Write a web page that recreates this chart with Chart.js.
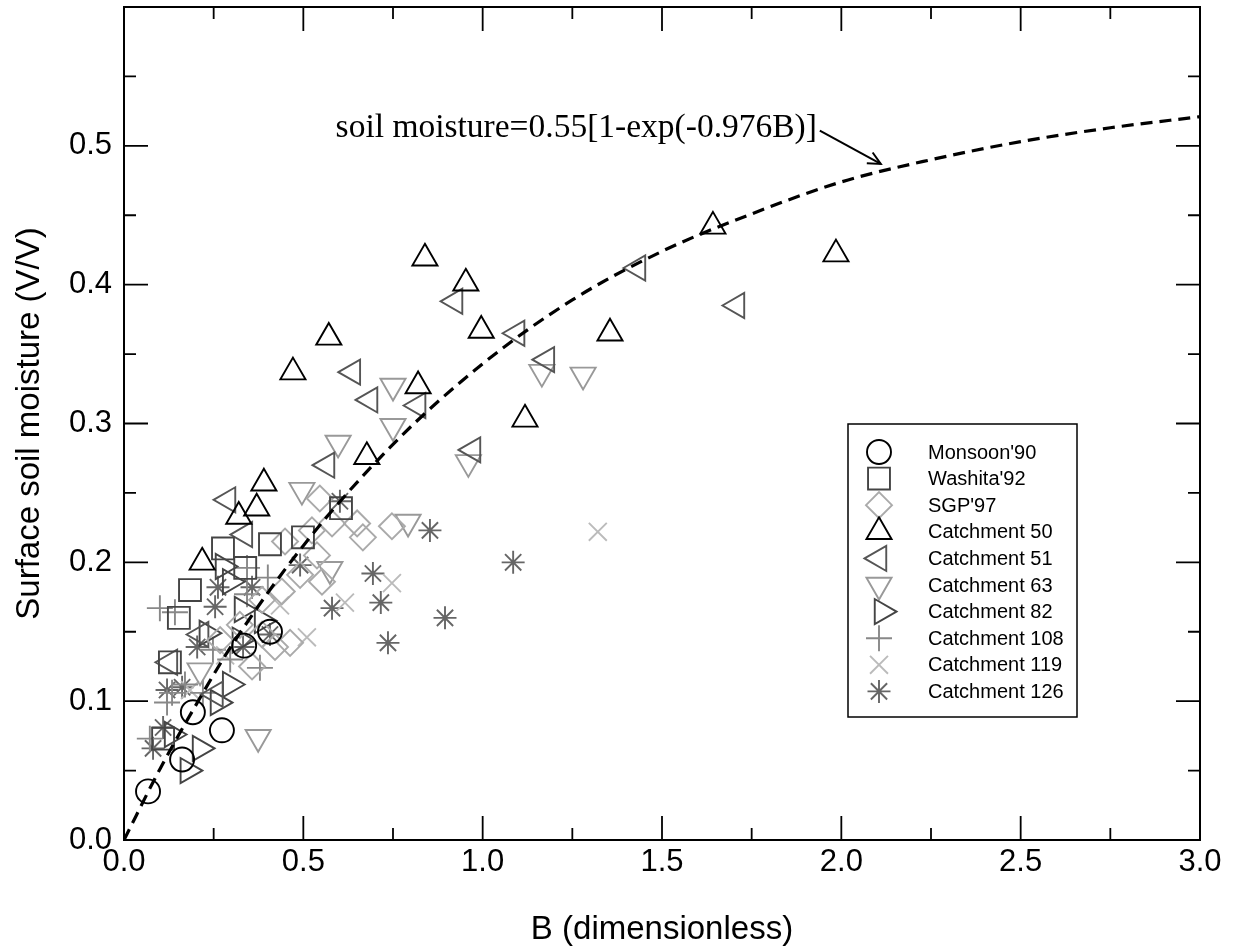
<!DOCTYPE html>
<html><head><meta charset="utf-8">
<script src="https://cdn.jsdelivr.net/npm/chart.js@4/dist/chart.umd.min.js"></script>
<style>html,body{margin:0;padding:0;background:#fff}#wrap{width:1233px;height:952px;position:relative}</style>
</head><body><div id="wrap"><canvas id="c" width="1233" height="952"></canvas></div>
<script>
// ---- data ----
const monsoonB  = [0.067,0.162,0.192,0.273,0.335,0.407];
const monsoonSM = [0.035,0.058,0.092,0.079,0.140,0.150];

const washitaB  = [0.276,0.338,0.407,0.499,0.605,0.184,0.153,0.128,0.109];
const washitaSM = [0.210,0.196,0.213,0.218,0.239,0.180,0.160,0.128,0.073];

const sgpB  = [0.449,0.440,0.357,0.421,0.463,0.524,0.546,0.580,0.650,0.666,0.747,0.538,0.552,0.491,0.385,0.323,0.268,0.385];
const sgpSM = [0.215,0.179,0.125,0.139,0.142,0.223,0.246,0.228,0.228,0.218,0.226,0.205,0.186,0.191,0.173,0.155,0.144,0.148];

const c50B  = [0.839,0.953,0.996,0.571,0.471,0.820,1.118,1.355,1.642,1.985,0.677,0.390,0.370,0.320,0.218];
const c50SM = [0.419,0.401,0.367,0.362,0.337,0.327,0.303,0.365,0.442,0.422,0.276,0.257,0.239,0.233,0.200];

const c51B  = [0.923,0.638,0.686,0.820,1.096,1.179,0.973,0.566,1.433,1.709,0.290,0.337,0.128,0.215,0.255];
const c51SM = [0.388,0.337,0.317,0.313,0.365,0.346,0.281,0.270,0.412,0.385,0.245,0.220,0.128,0.148,0.105];

const c63B  = [0.750,1.165,1.280,0.750,0.597,0.960,0.792,0.496,0.574,0.374,0.212];
const c63SM = [0.327,0.337,0.335,0.298,0.286,0.272,0.229,0.252,0.195,0.074,0.122];

const c82B  = [0.276,0.231,0.329,0.296,0.262,0.212,0.178,0.134,0.323,0.385,0.296];
const c82SM = [0.197,0.149,0.166,0.112,0.099,0.066,0.050,0.076,0.144,0.158,0.186];

const c108B  = [0.100,0.142,0.343,0.401,0.343,0.134,0.120,0.170,0.220,0.072,0.248,0.296,0.379];
const c108SM = [0.167,0.164,0.196,0.189,0.177,0.106,0.099,0.112,0.106,0.073,0.137,0.130,0.124];

const c119B  = [1.321,0.747,0.616,0.510,0.282,0.184,0.435];
const c119SM = [0.222,0.185,0.171,0.146,0.133,0.108,0.169];

const c126B  = [0.853,0.694,0.580,0.716,0.895,0.736,0.602,0.491,1.085,0.262,0.357,0.254,0.204,0.332,0.407,0.120,0.162,0.109,0.081];
const c126SM = [0.223,0.192,0.167,0.171,0.160,0.142,0.244,0.198,0.200,0.182,0.182,0.168,0.139,0.139,0.148,0.108,0.110,0.081,0.066];

// fitted curve, points
const fitB  = [0,0.1,0.2,0.3,0.5,0.75,1.0,1.25,1.5,1.75,2.0,2.25,2.5,2.75,3.0];
const fitSM = [0,0.051,0.097,0.140,0.212,0.285,0.343,0.389,0.424,0.451,0.474,0.490,0.503,0.513,0.521];

const xTicks = [0,0.5,1.0,1.5,2.0,2.5,3.0];
const yTicks = [0,0.1,0.2,0.3,0.4,0.5,0.6];
const yLabels = ['0.0','0.1','0.2','0.3','0.4','0.5',''];
const xLabels = ['0.0','0.5','1.0','1.5','2.0','2.5','3.0'];

const seriesNames = ["Monsoon'90","Washita'92","SGP'97","Catchment 50","Catchment 51","Catchment 63","Catchment 82","Catchment 108","Catchment 119","Catchment 126"];

const annotationText = 'soil moisture=0.55[1-exp(-0.976B)]';

// ---- build ----
function pts(xs, ys){ return xs.map((x,i)=>({x:x, y:ys[i]})); }
const styles = [
  {style:'circle',   r:12,   rot:0,   c:'#000000'},
  {style:'rect',     r:15.5, rot:0,   c:'#444444'},
  {style:'rectRot',  r:13,   rot:0,   c:'#aaaaaa'},
  {style:'triangle', r:14.5, rot:0,   c:'#000000'},
  {style:'triangle', r:14.5, rot:-90, c:'#555555'},
  {style:'triangle', r:14.5, rot:180, c:'#999999'},
  {style:'triangle', r:14.5, rot:90,  c:'#444444'},
  {style:'cross',    r:13,   rot:0,   c:'#888888'},
  {style:'crossRot', r:12.7, rot:0,   c:'#bbbbbb'},
  {style:'star',     r:11.5, rot:0,   c:'#666666'}
];
const seriesData = [
  pts(monsoonB,monsoonSM), pts(washitaB,washitaSM), pts(sgpB,sgpSM),
  pts(c50B,c50SM), pts(c51B,c51SM), pts(c63B,c63SM), pts(c82B,c82SM),
  pts(c108B,c108SM), pts(c119B,c119SM), pts(c126B,c126SM)
];
const MW = 1.9;

const datasets = [{
  type:'line', label:'fit', data: pts(fitB, fitSM), borderColor:'#000', borderWidth:3.2,
  borderDash:[12,7], pointRadius:0, fill:false, cubicInterpolationMode:'monotone', order:0
}];
seriesNames.forEach((n,i)=>{
  const s = styles[i];
  datasets.push({
    type:'scatter', label:n, data: seriesData[i], pointStyle:s.style, pointRadius:s.r,
    pointRotation:s.rot, borderColor:s.c, backgroundColor:'rgba(0,0,0,0)', pointBorderWidth:MW,
    borderWidth:MW, order:1
  });
});

function fallbackPoint(ctx, st, x, y){
  ctx.beginPath(); ctx.arc(x,y,st.r,0,Math.PI*2); ctx.stroke();
}
function noPad(s){
  s.paddingTop = 0; s.paddingBottom = 0; s.paddingLeft = 0; s.paddingRight = 0;
}

const framePlugin = {
  id:'frame',
  afterDatasetsDraw(chart){
    const {ctx, chartArea:a, scales:{x, y}} = chart;
    ctx.save();
    ctx.strokeStyle = '#000'; ctx.lineWidth = 2;
    ctx.strokeRect(a.left, a.top, a.right-a.left, a.bottom-a.top);
    ctx.lineWidth = 1.8;
    ctx.beginPath();
    for (let i=0;i<xTicks.length;i++){
      const px = x.getPixelForValue(xTicks[i]);
      ctx.moveTo(px, a.bottom); ctx.lineTo(px, a.bottom-24);
      ctx.moveTo(px, a.top); ctx.lineTo(px, a.top+24);
      if (i<xTicks.length-1){
        const pm = x.getPixelForValue((xTicks[i]+xTicks[i+1])/2);
        ctx.moveTo(pm, a.bottom); ctx.lineTo(pm, a.bottom-12);
        ctx.moveTo(pm, a.top); ctx.lineTo(pm, a.top+12);
      }
    }
    for (let i=0;i<yTicks.length;i++){
      const py = y.getPixelForValue(yTicks[i]);
      ctx.moveTo(a.left, py); ctx.lineTo(a.left+24, py);
      ctx.moveTo(a.right, py); ctx.lineTo(a.right-24, py);
      if (i<yTicks.length-1){
        const pm = y.getPixelForValue((yTicks[i]+yTicks[i+1])/2);
        ctx.moveTo(a.left, pm); ctx.lineTo(a.left+12, pm);
        ctx.moveTo(a.right, pm); ctx.lineTo(a.right-12, pm);
      }
    }
    ctx.stroke();
    ctx.restore();
  },
  afterDraw(chart){
    const {ctx, chartArea:a, scales:{x, y}} = chart;
    ctx.save();
    // annotation
    ctx.fillStyle = '#000';
    ctx.font = '33.5px "Liberation Serif", "Times New Roman", serif';
    ctx.textAlign = 'left'; ctx.textBaseline = 'middle';
    ctx.fillText(annotationText, x.getPixelForValue(0.59), y.getPixelForValue(0.513));
    const x0 = x.getPixelForValue(1.94), y0 = y.getPixelForValue(0.511);
    const x1 = x.getPixelForValue(2.11), y1 = y.getPixelForValue(0.487);
    ctx.strokeStyle = '#000'; ctx.lineWidth = 2;
    ctx.beginPath(); ctx.moveTo(x0,y0); ctx.lineTo(x1,y1); ctx.stroke();
    const ang = Math.atan2(y1-y0, x1-x0), L = 14, w = 0.45;
    ctx.beginPath();
    ctx.moveTo(x1 - L*Math.cos(ang-w), y1 - L*Math.sin(ang-w));
    ctx.lineTo(x1, y1);
    ctx.lineTo(x1 - L*Math.cos(ang+w), y1 - L*Math.sin(ang+w));
    ctx.stroke();

    // legend box
    const bx = a.left + 724, by = a.top + 417, bw = 229, bh = 293;
    ctx.lineWidth = 1.5; ctx.strokeStyle = '#000';
    ctx.strokeRect(bx, by, bw, bh);
    ctx.font = '20px "Liberation Sans", Arial, Helvetica, sans-serif';
    ctx.textAlign = 'left'; ctx.textBaseline = 'middle';
    const H = Chart.helpers;
    seriesNames.forEach((n,i)=>{
      const st = styles[i];
      const ry = by + 28 + i*26.6;
      const mx = bx + 31 + (st.rot===90 ? 3 : 0);
      ctx.save();
      ctx.strokeStyle = st.c; ctx.fillStyle = 'rgba(0,0,0,0)'; ctx.lineWidth = MW;
      if (H && H.drawPoint) {
        H.drawPoint(ctx, {pointStyle:st.style, radius:st.r, rotation:st.rot, borderWidth:MW}, mx, ry);
      } else fallbackPoint(ctx, st, mx, ry);
      ctx.restore();
      ctx.fillStyle = '#000';
      ctx.fillText(n, bx + 80, ry + 1);
    });
    ctx.restore();
  }
};

new Chart(document.getElementById('c'), {
  data:{datasets},
  options:{
    responsive:false, animation:false, events:[],
    layout:{autoPadding:false, padding:{top:7, right:33, left:0, bottom:0}},
    plugins:{legend:{display:false}, tooltip:{enabled:false}, title:{display:false}},
    scales:{
      x:{type:'linear', min:0, max:3, position:'bottom',
         afterFit(s){ s.height = 112; noPad(s); },
         afterBuildTicks(s){ s.ticks = xTicks.map(v=>({value:v})); },
         grid:{display:false, drawTicks:false}, border:{display:false},
         ticks:{padding:4, color:'#000', font:{size:31, family:'"Liberation Sans", Arial, Helvetica, sans-serif'},
           callback:(v,i)=>xLabels[i], maxRotation:0, autoSkip:false},
         title:{display:true, text:'B (dimensionless)', color:'#000', padding:{top:0,bottom:2},
           font:{size:33, family:'"Liberation Sans", Arial, Helvetica, sans-serif'}}
      },
      y:{type:'linear', min:0, max:0.6, position:'left',
         afterFit(s){ s.width = 124; noPad(s); },
         afterBuildTicks(s){ s.ticks = yTicks.map(v=>({value:v})); },
         grid:{display:false, drawTicks:false}, border:{display:false},
         ticks:{padding:12, color:'#000', font:{size:31, family:'"Liberation Sans", Arial, Helvetica, sans-serif'},
           callback:(v,i)=>yLabels[i], autoSkip:false},
         title:{display:true, text:'Surface soil moisture (V/V)', color:'#000', padding:{top:10,bottom:0},
           font:{size:33, family:'"Liberation Sans", Arial, Helvetica, sans-serif'}}
      }
    }
  },
  plugins:[framePlugin]
});
</script></body></html>
